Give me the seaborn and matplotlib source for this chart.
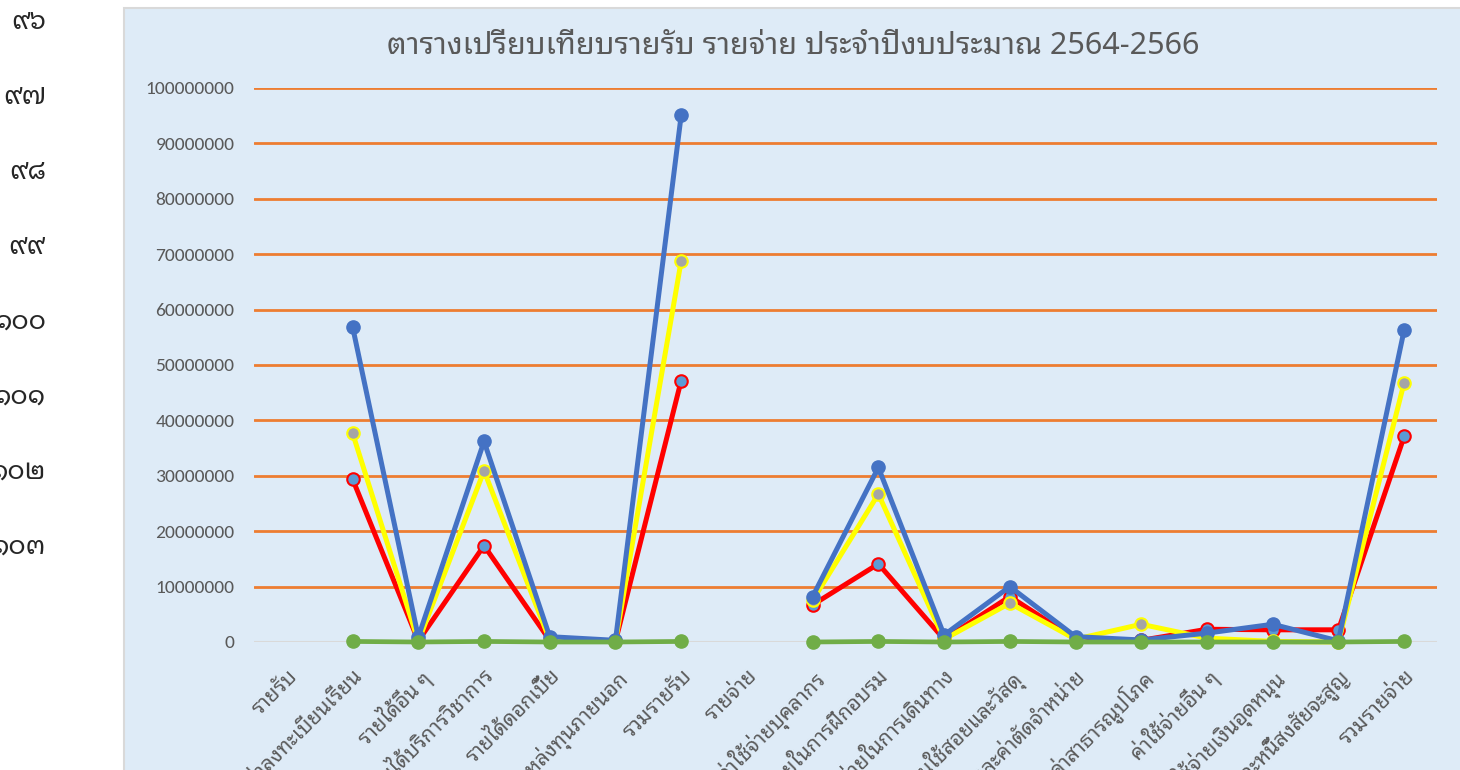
import numpy as np
import pandas as pd
import matplotlib
matplotlib.use("Agg")
import matplotlib.pyplot as plt
from matplotlib import font_manager
from matplotlib.patches import Rectangle
import seaborn as sns

# ---------------- data ----------------
categories = ['รายรับ', 'รายได้ค่าลงทะเบียนเรียน', 'รายได้อื่น ๆ', 'รายได้บริการวิชาการ',
              'รายได้ดอกเบี้ย', 'รายได้วิจัยแหล่งทุนภายนอก', 'รวมรายรับ', 'รายจ่าย',
              'ค่าใช้จ่ายบุคลากร', 'ค่าใช้จ่ายในการฝึกอบรม', 'ค่าใช้จ่ายในการเดินทาง',
              'ค่าตอบแทนใช้สอยและวัสดุ', 'ค่าเสื่อมราคาและค่าตัดจำหน่าย', 'ค่าสาธารณูปโภค',
              'ค่าใช้จ่ายอื่น ๆ', 'ค่าใช้จ่ายเงินอุดหนุน', 'หนี้สูญและหนี้สงสัยจะสูญ', 'รวมรายจ่าย']

series_names = ['2564', '2565', '2566', 'อื่น ๆ']
nan = np.nan
values_2564 = [nan, 29400000, 200000, 17400000, 300000, 100000, 47200000, nan,
               6700000, 14100000, 500000, 8200000, 500000, 300000, 2300000, 2200000, 2200000, 37100000]
values_2565 = [nan, 37700000, 100000, 30900000, 300000, 100000, 68800000, nan,
               7500000, 26700000, 500000, 7000000, 500000, 3200000, 700000, 100000, 0, 46800000]
values_2566 = [nan, 56900000, 900000, 36200000, 960000, 300000, 95100000, nan,
               8200000, 31500000, 1260000, 10000000, 970000, 360000, 1600000, 3200000, 200000, 56300000]
values_other = [nan, 100000, 0, 100000, 0, 0, 100000, nan,
                0, 100000, 0, 100000, 0, 0, 0, 0, 0, 100000]

row_numbers = ['๙๖', '๙๗', '๙๘', '๙๙', '๑๐๐', '๑๐๑', '๑๐๒', '๑๐๓']
title = 'ตารางเปรียบเทียบรายรับ รายจ่าย ประจำปีงบประมาณ 2564-2566'

# ---------------- fonts ----------------
installed = set(f.name for f in font_manager.fontManager.ttflist)
thai_prefs = ['Noto Sans Thai Looped', 'Sarabun', 'Noto Sans Thai', 'Bai Jamjuree', 'Athiti']
thai_font = next((f for f in thai_prefs if f in installed), 'DejaVu Sans')
num_font = next((f for f in ['Carlito', 'Open Sans', 'DejaVu Sans'] if f in installed), 'DejaVu Sans')

sns.set_theme(style='white')
plt.rcParams['font.family'] = [num_font, thai_font, 'DejaVu Sans']

W, H = 1460, 770
fig = plt.figure(figsize=(W / 100, H / 100), dpi=100)
fig.patch.set_facecolor('white')

# chart area (Excel chart object), extends beyond the screenshot
chart_bg = '#DEEBF7'
bg = Rectangle((124 / W, -0.1), 1.2, (H - 8) / H + 0.1, transform=fig.transFigure,
               facecolor=chart_bg, edgecolor='#D9D9D9', linewidth=1.5, zorder=-5)
fig.add_artist(bg)

# spreadsheet row numbers on the left
for i, r in enumerate(row_numbers):
    fig.text(46 / W, 1 - (22 + 75 * i) / H, r, ha='right', va='center', fontsize=19,
             color='#262626', family=[thai_font, 'DejaVu Sans'])

ax = fig.add_axes([254 / W, 1 - 642 / H, (1437 - 254) / W, (642 - 88) / H])
ax.set_facecolor('none')
ax.set_zorder(2)

x = np.arange(len(categories))
df = pd.DataFrame({'x': x, 'cat': categories,
                   series_names[0]: values_2564, series_names[1]: values_2565,
                   series_names[2]: values_2566, series_names[3]: values_other})

styles = [
    dict(color='#FF0000', mfc='#5B9BD5', mec='#FF0000', lw=3.6, ms=9, mew=1.5),
    dict(color='#FFFF00', mfc='#A5A5A5', mec='#FFFF00', lw=3.6, ms=9, mew=1.5),
    dict(color='#4472C4', mfc='#4472C4', mec='#4472C4', lw=3.6, ms=9.5, mew=1.0),
    dict(color='#70AD47', mfc='#70AD47', mec='#70AD47', lw=3.4, ms=9.5, mew=1.0),
]

sections = [df.iloc[1:7], df.iloc[8:18]]
for name, st in zip(series_names, styles):
    for sec in sections:
        sns.lineplot(data=sec, x='x', y=name, ax=ax, color=st['color'], linewidth=st['lw'],
                     marker='o', markersize=st['ms'], markerfacecolor=st['mfc'],
                     markeredgecolor=st['mec'], markeredgewidth=st['mew'],
                     sort=False, estimator=None, legend=False, zorder=3, clip_on=False)

ax.set_xlim(-0.5, len(categories) - 0.5)
ax.set_ylim(0, 100000000)
yt = np.arange(0, 100000001, 10000000)
ax.set_yticks(yt)
ax.set_yticklabels([str(int(v)) for v in yt], fontsize=14, color='#595959')
ax.set_xticks(x)
ax.set_xticklabels(categories, rotation=45, ha='right', va='top', rotation_mode='anchor',
                   fontsize=15, color='#595959', family=[thai_font, 'DejaVu Sans'])
ax.tick_params(axis='y', length=0, pad=14)
ax.tick_params(axis='x', length=0, pad=17)
ax.set_xlabel('')
ax.set_ylabel('')
for s in ax.spines.values():
    s.set_visible(False)

ax.grid(axis='y', color='#ED7D31', linewidth=2.0)
ax.grid(axis='x', visible=False)
ax.set_axisbelow(True)
gl = ax.yaxis.get_gridlines()
gl[0].set_color('#D9D9D9')
gl[0].set_linewidth(1.5)

fig.text(793 / W, 1 - 46 / H, title, ha='center', va='center', fontsize=22, color='#595959',
         family=[thai_font, num_font, 'DejaVu Sans'])

fig.savefig('out.png', dpi=100, facecolor='white')
